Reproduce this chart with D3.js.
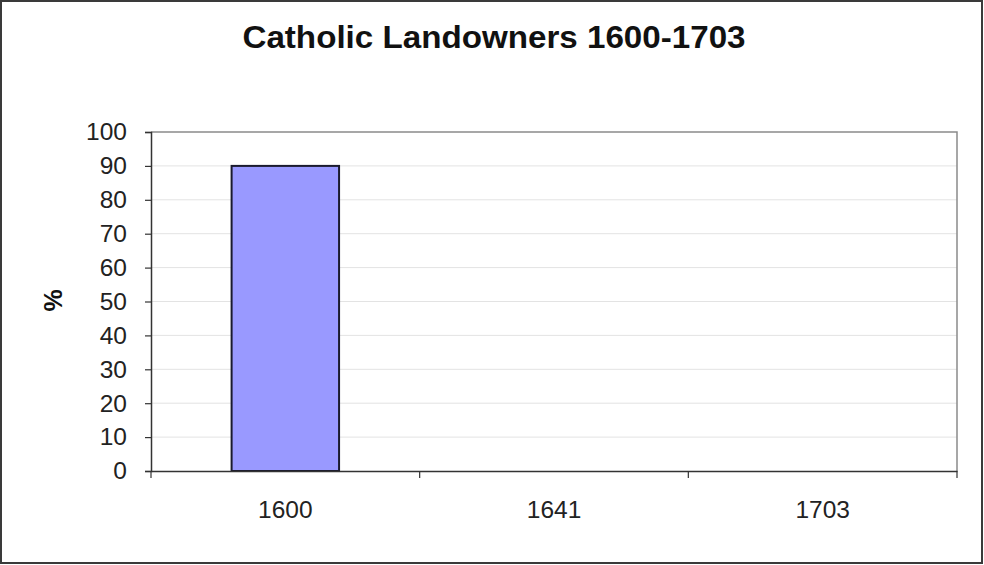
<!DOCTYPE html>
<html>
<head>
<meta charset="utf-8">
<script src="https://cdn.jsdelivr.net/npm/d3@7"></script>
<style>
  html, body { margin: 0; padding: 0; background: #fff; }
  svg { display: block; font-family: "Liberation Sans", Arial, sans-serif; }
</style>
</head>
<body>
<div class="chart"></div>
<script>
const categories = ["1600", "1641", "1703"];
const values = [90, null, null];
const yTicks = [0, 10, 20, 30, 40, 50, 60, 70, 80, 90, 100];

const width = 984, height = 565;
const plot = {left: 151, right: 957, top: 132, bottom: 471};

const svg = d3.select(".chart").append("svg")
    .attr("width", width)
    .attr("height", height);

// outer frame
svg.append("rect")
    .attr("x", 1).attr("y", 1)
    .attr("width", width - 3).attr("height", height - 3)
    .attr("fill", "#fff")
    .attr("stroke", "#3a3a3a")
    .attr("stroke-width", 2);

const x = d3.scaleBand()
    .domain(categories)
    .range([plot.left, plot.right])
    .paddingInner(0)
    .paddingOuter(0);

const y = d3.scaleLinear()
    .domain([0, 100])
    .range([plot.bottom, plot.top]);

// gridlines
svg.append("g")
    .selectAll("line")
    .data(yTicks.filter(d => d > 0 && d < 100))
    .enter().append("line")
    .attr("x1", plot.left).attr("x2", plot.right)
    .attr("y1", d => y(d)).attr("y2", d => y(d))
    .attr("stroke", "#e3e3e3")
    .attr("stroke-width", 1);

// plot border top / right
svg.append("path")
    .attr("d", `M${plot.left},${plot.top}H${plot.right}V${plot.bottom}`)
    .attr("fill", "none")
    .attr("stroke", "#8a8a8a")
    .attr("stroke-width", 1.5);

// bars
const barW = x.bandwidth() * 0.4;
svg.append("g")
    .selectAll("rect")
    .data(categories.map((c, i) => ({c, v: values[i]})).filter(d => d.v != null))
    .enter().append("rect")
    .attr("x", d => x(d.c) + (x.bandwidth() - barW) / 2)
    .attr("y", d => y(d.v))
    .attr("width", barW)
    .attr("height", d => y(0) - y(d.v))
    .attr("fill", "#9999ff")
    .attr("stroke", "#1a1a2e")
    .attr("stroke-width", 2);

// y axis
const yAxis = svg.append("g")
    .attr("transform", `translate(${plot.left},0)`)
    .call(d3.axisLeft(y).tickValues(yTicks).tickSize(6).tickPadding(18));
yAxis.select(".domain").attr("stroke", "#333").attr("stroke-width", 1.5);
yAxis.selectAll(".tick line").attr("stroke", "#333").attr("stroke-width", 1.2);
yAxis.selectAll(".tick text")
    .attr("font-size", 24.5)
    .attr("fill", "#222")
    .attr("font-family", "Liberation Sans, Arial, sans-serif");

// x axis
const xAxis = svg.append("g")
    .attr("transform", `translate(0,${plot.bottom})`)
    .call(d3.axisBottom(x).tickSize(0).tickPadding(30));
xAxis.select(".domain").attr("stroke", "#333").attr("stroke-width", 1.5);
xAxis.selectAll(".tick text")
    .attr("font-size", 24.5)
    .attr("fill", "#222")
    .attr("font-family", "Liberation Sans, Arial, sans-serif");

// x tick marks between categories
const xBounds = categories.map(c => x(c)).concat([x(categories[categories.length - 1]) + x.bandwidth()]);
svg.append("g")
    .selectAll("line")
    .data(xBounds)
    .enter().append("line")
    .attr("x1", d => d).attr("x2", d => d)
    .attr("y1", plot.bottom).attr("y2", plot.bottom + 7)
    .attr("stroke", "#333")
    .attr("stroke-width", 1.2);

// title
svg.append("text")
    .attr("transform", "translate(494,48) scale(1.07,1)")
    .attr("text-anchor", "middle")
    .attr("font-size", 31)
    .attr("font-weight", "bold")
    .attr("fill", "#111")
    .text("Catholic Landowners 1600-1703");

// y label
svg.append("text")
    .attr("transform", `translate(62,${(plot.top + plot.bottom) / 2 - 1}) rotate(-90)`)
    .attr("text-anchor", "middle")
    .attr("font-size", 25)
    .attr("font-weight", "bold")
    .attr("fill", "#111")
    .text("%");
</script>
</body>
</html>
